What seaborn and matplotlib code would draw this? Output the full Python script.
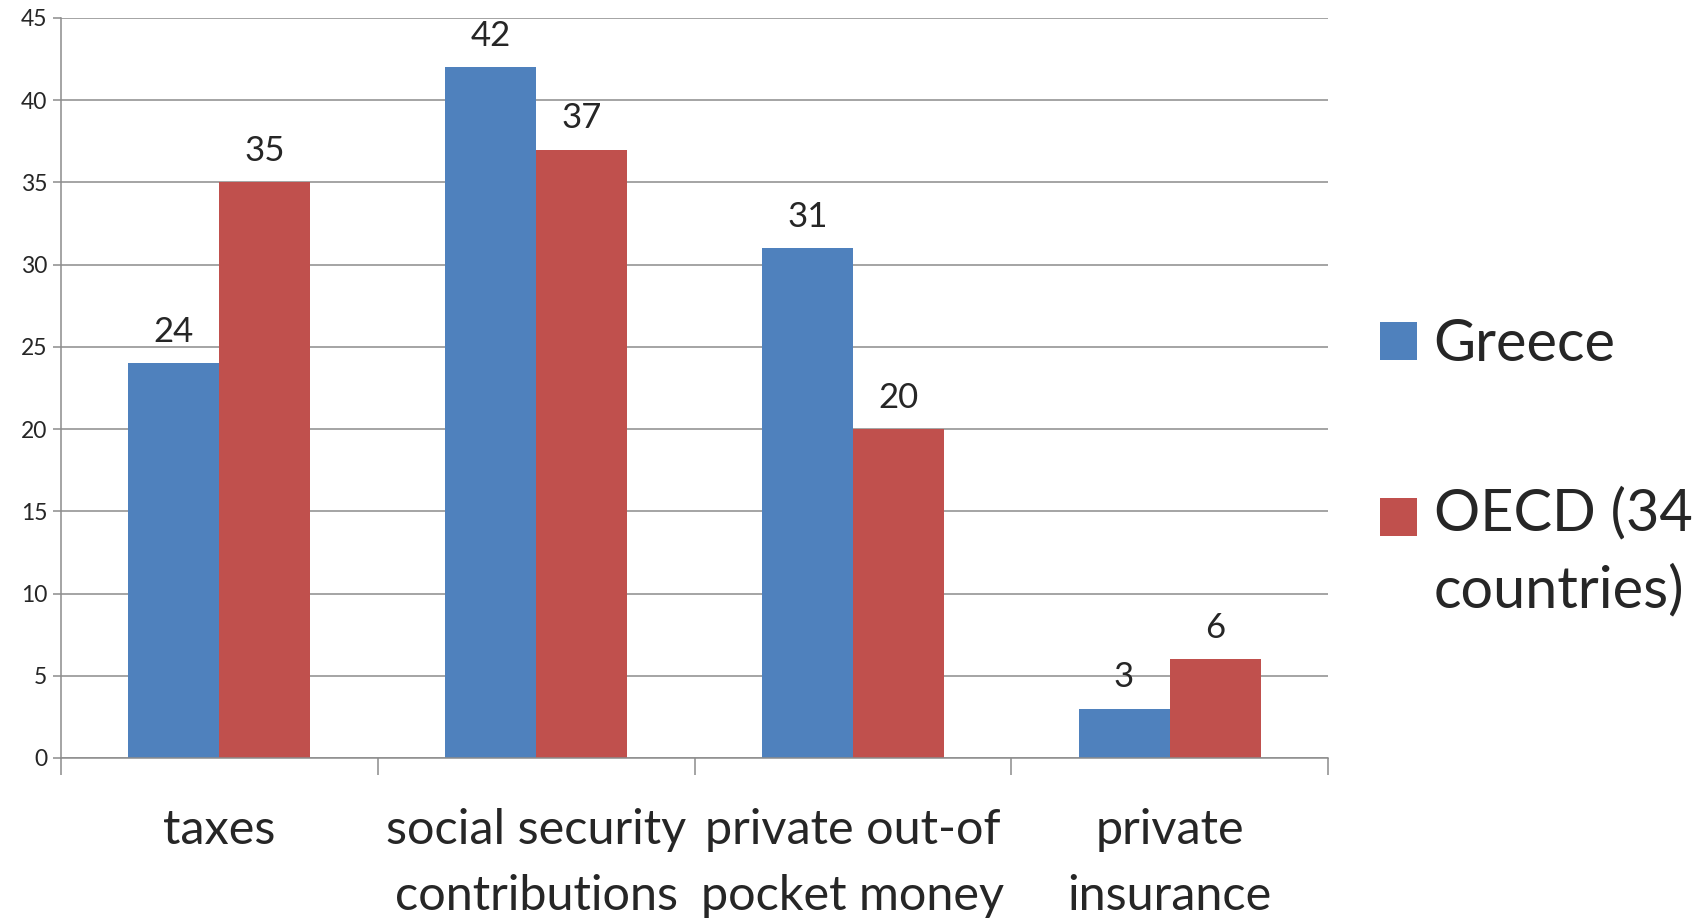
import matplotlib
matplotlib.use("Agg")
import matplotlib.pyplot as plt
import seaborn as sns
import pandas as pd
from matplotlib.legend_handler import HandlerPatch
from matplotlib.patches import Rectangle

categories = ["taxes", "social security\ncontributions", "private out-of\npocket money", "private\ninsurance"]
greece = [24, 42, 31, 3]
oecd = [35, 37, 20, 6]
series_names = ["Greece", "OECD (34\ncountries)"]
yticks = [0, 5, 10, 15, 20, 25, 30, 35, 40, 45]

colors = ["#4F81BD", "#C0504D"]

df = pd.DataFrame({
    "category": categories * 2,
    "value": greece + oecd,
    "series": [series_names[0]] * len(categories) + [series_names[1]] * len(categories),
})

sns.set_style("white")
plt.rcParams["font.family"] = ["Lato", "DejaVu Sans"]

fig = plt.figure(figsize=(17.07, 9.19), dpi=100)
ax = fig.add_axes([61 / 1707, 1 - 758 / 919, (1328 - 61) / 1707, (758 - 18) / 919])

sns.barplot(data=df, x="category", y="value", hue="series", palette=colors,
            width=0.575, gap=0, saturation=1, ax=ax, legend=True, linewidth=0)

ax.set_ylim(0, 45)
ax.set_xlim(-0.5, len(categories) - 0.5)
ax.set_yticks(yticks)
ax.set_yticklabels([str(v) for v in yticks], fontsize=16.5)
ax.set_xlabel("")
ax.set_ylabel("")

ax.yaxis.grid(True, color="#8c8c8c", linewidth=1.1)
ax.set_axisbelow(True)
for s in ["top", "right"]:
    ax.spines[s].set_visible(False)
for s in ["left", "bottom"]:
    ax.spines[s].set_color("#8c8c8c")
    ax.spines[s].set_linewidth(1.1)

ax.tick_params(axis="y", length=6, width=1.1, color="#8c8c8c", pad=4, left=True)
ax.tick_params(axis="x", which="major", length=0, pad=36, labelsize=35)
for lab in ax.get_xticklabels():
    lab.set_linespacing(1.62)
ax.set_xticks([i - 0.5 for i in range(len(categories) + 1)], minor=True)
ax.tick_params(axis="x", which="minor", length=12, width=1.1, color="#8c8c8c", bottom=True)

for cont in ax.containers:
    ax.bar_label(cont, fmt="%g", padding=11, fontsize=25)

handles, labels = ax.get_legend_handles_labels()
ax.get_legend().remove()


def make_patch_func(shift):
    def patch_func(legend, orig_handle, xdescent, ydescent, width, height, fontsize):
        return Rectangle((-xdescent, -ydescent + shift), width, height)
    return patch_func


handler_map = {handles[0]: HandlerPatch(patch_func=make_patch_func(0)),
               handles[1]: HandlerPatch(patch_func=make_patch_func(26))}

leg = fig.legend(handles, labels, loc="upper left", bbox_to_anchor=(1380 / 1707, 1 - 318 / 919),
                 frameon=False, fontsize=41.5, handlelength=0.65, handleheight=0.65,
                 handletextpad=0.28, labelspacing=2.0, borderpad=0, borderaxespad=0,
                 handler_map=handler_map)
for t in leg.get_texts():
    t.set_linespacing(1.55)

fig.savefig("out.png", dpi=100)
